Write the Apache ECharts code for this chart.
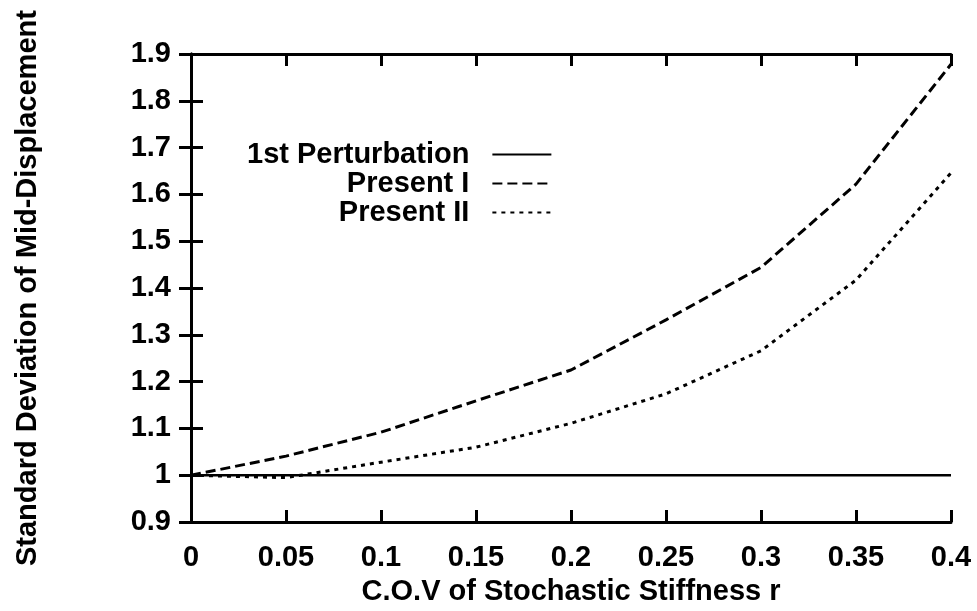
<!DOCTYPE html>
<html>
<head>
<meta charset="utf-8">
<title>Standard deviation of mid-displacement</title>
<script src="https://cdn.jsdelivr.net/npm/echarts@6/dist/echarts.min.js"></script>
<style>
  html, body { margin: 0; padding: 0; background: #fff; }
  #chart { width: 977px; height: 611px; }
</style>
</head>
<body>
<div id="chart"></div>
<script>
// Coefficient of variation of the stochastic stiffness
const covValues = [0, 0.05, 0.1, 0.15, 0.2, 0.25, 0.3, 0.35, 0.4];
// Normalised standard deviation of the mid-span displacement
const firstPerturbation = [1, 1, 1, 1, 1, 1, 1, 1, 1];
const presentI  = [1.0, 1.041, 1.092, 1.159, 1.225, 1.332, 1.444, 1.622, 1.878];
const presentII = [1.0, 0.995, 1.028, 1.06, 1.111, 1.174, 1.266, 1.417, 1.646];
const seriesNames = ['1st Perturbation', 'Present I', 'Present II'];

const FONT = '"Liberation Sans", Arial, Helvetica, sans-serif';
const FONT_SIZE = 29;
const pairs = (ys) => covValues.map((x, i) => [x, ys[i]]);

const chart = echarts.init(document.getElementById('chart'), null, { renderer: 'canvas' });

// Closed frame: bottom/left axes carry labels, top/right axes only ticks
const frameAxis = {
  axisLine: { show: true, lineStyle: { color: '#000', width: 3 } },
  axisTick: { show: true, inside: true, length: 12, lineStyle: { color: '#000', width: 3 } },
  splitLine: { show: false }
};
const labelText = { fontFamily: FONT, fontSize: FONT_SIZE, fontWeight: 'bold', color: '#000' };

chart.setOption({
  animation: false,
  backgroundColor: '#fff',
  textStyle: { fontFamily: FONT, color: '#000' },
  grid: { left: 191, right: 26, top: 54, bottom: 83 },
  legend: {
    orient: 'vertical',
    align: 'right',
    left: 242,
    top: 135,
    itemWidth: 59,
    itemHeight: 14,
    itemGap: 0,
    data: seriesNames,
    itemStyle: { opacity: 0 },
    textStyle: Object.assign({ padding: [0, 18, 0, 0] }, labelText),
    selectedMode: false
  },
  xAxis: [
    Object.assign({
      type: 'value', min: 0, max: 0.4, interval: 0.05, position: 'bottom',
      name: 'C.O.V of Stochastic Stiffness r',
      nameLocation: 'middle', nameGap: 51,
      nameTextStyle: labelText,
      axisLabel: Object.assign({ margin: 21, formatter: (v) => String(+v.toFixed(2)) }, labelText)
    }, frameAxis),
    Object.assign({
      type: 'value', min: 0, max: 0.4, interval: 0.05, position: 'top',
      axisLabel: { show: false }
    }, frameAxis)
  ],
  yAxis: [
    Object.assign({
      type: 'value', min: 0.9, max: 1.9, interval: 0.1, position: 'left',
      name: 'Standard Deviation of Mid-Displacement',
      nameLocation: 'middle', nameGap: 149, nameRotate: 90,
      nameTextStyle: labelText,
      axisLabel: Object.assign({ margin: 20, formatter: (v) => String(+v.toFixed(1)) }, labelText)
    }, frameAxis),
    Object.assign({
      type: 'value', min: 0.9, max: 1.9, interval: 0.1, position: 'right',
      axisLabel: { show: false }
    }, frameAxis)
  ],
  series: [
    {
      name: seriesNames[0], type: 'line', data: pairs(firstPerturbation),
      symbol: 'none', lineStyle: { color: '#000', width: 2.5, type: 'solid' },
      itemStyle: { color: '#000' }
    },
    {
      name: seriesNames[1], type: 'line', data: pairs(presentI),
      symbol: 'none', lineStyle: { color: '#000', width: 3, type: [10, 5] },
      itemStyle: { color: '#000' }
    },
    {
      name: seriesNames[2], type: 'line', data: pairs(presentII),
      symbol: 'none', lineStyle: { color: '#000', width: 3, type: [4, 5] },
      itemStyle: { color: '#000' }
    }
  ]
});
</script>
</body>
</html>
